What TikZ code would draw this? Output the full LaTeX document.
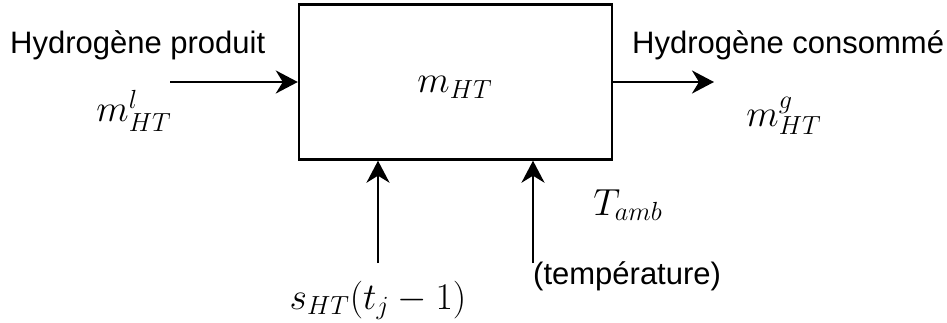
\documentclass[tikz,border=0pt]{standalone}
\usepackage{fontspec}
\setmainfont{Liberation Sans}
\usetikzlibrary{arrows.meta}
\begin{document}
\begin{tikzpicture}[x=1pt,y=-1pt,
  conn/.style={line width=2.4pt,-{Stealth[length=22pt,width=23pt,inset=7pt]}},
  lbl/.style={inner sep=0pt,font=\fontsize{31}{37}\selectfont},
  mlbl/.style={inner sep=0pt,scale=1.82,transform shape,font=\fontsize{20.74}{25}\selectfont}]
\useasboundingbox (0,0) rectangle (947,323);
\node[draw,line width=2.4pt,minimum width=313pt,minimum height=155pt,inner sep=0pt] (box) at (455.5,82) {};
\node[mlbl,anchor=base] (mht) at (455,93) {$m_{HT}$};
\node[lbl,anchor=base west] (hp) at (10,54) {Hydrogène produit};
\node[mlbl,anchor=base] (ml) at (134,122) {$m^{l}_{HT}$};
\node[lbl,anchor=base west] (hc) at (632,54) {Hydrogène consommé};
\node[mlbl,anchor=base] (mg) at (784,127) {$m^{g}_{HT}$};
\node[mlbl,anchor=base] (tamb) at (628,215) {$T_{amb}$};
\node[lbl,anchor=base west] (temp) at (533,284) {(température)};
\node[mlbl,anchor=base] (s) at (378,309) {$s_{HT}(t_j-1)$};
\coordinate (lin) at (170,82);
\coordinate (rout) at (714,82);
\coordinate (b1) at (378,263);
\coordinate (b2) at (533,263);
\draw[conn] (lin) -- (box.west |- lin);
\draw[conn] (box.east |- rout) -- (rout);
\draw[conn] (b1) -- (box.south -| b1);
\draw[conn] (b2) -- (box.south -| b2);
\end{tikzpicture}
\end{document}
